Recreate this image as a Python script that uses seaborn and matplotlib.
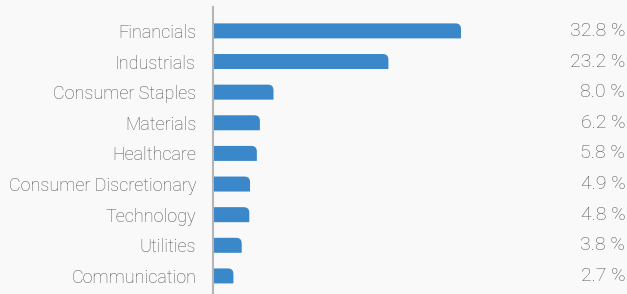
import numpy as np
import pandas as pd
import matplotlib
matplotlib.use("Agg")
import matplotlib.pyplot as plt
from matplotlib.path import Path
from matplotlib.patches import PathPatch
import seaborn as sns

sectors = ["Financials", "Industrials", "Consumer Staples", "Materials", "Healthcare",
           "Consumer Discretionary", "Technology", "Utilities", "Communication"]
weights = [32.8, 23.2, 8.0, 6.2, 5.8, 4.9, 4.8, 3.8, 2.7]

bg = "#f9f9f9"
bar_color = "#3a88c9"
text_color = "#555555"

sns.set_style("white")
plt.rcParams['font.family'] = ['Roboto', 'DejaVu Sans']

df = pd.DataFrame({"sector": sectors, "weight": weights})

fig = plt.figure(figsize=(6.27, 2.94), dpi=100, facecolor=bg)
ax = fig.add_axes([213 / 627, 0, 414 / 627, 287 / 294])
ax.set_facecolor(bg)

sns.barplot(data=df, x="weight", y="sector", color=bar_color, width=0.49,
            saturation=1, ax=ax)

ax.set_xlim(0, 414 / 7.56)
ax.set_ylim(8.59, -0.78)

# round the top-right corner of each bar
r_px = 5.5
for p in list(ax.patches):
    x0, y0 = p.get_x(), p.get_y()
    w, h = p.get_width(), p.get_height()
    rx = r_px / 7.56
    ry = r_px / 30.6
    ytop, ybot = y0, y0 + h  # y axis is inverted: y0 is visually top
    x1 = x0 + w
    verts = [(x0, ybot), (x1, ybot), (x1, ytop + ry), (x1, ytop), (x1 - rx, ytop),
             (x0, ytop), (x0, ybot)]
    codes = [Path.MOVETO, Path.LINETO, Path.LINETO, Path.CURVE3, Path.CURVE3,
             Path.LINETO, Path.CLOSEPOLY]
    ax.add_patch(PathPatch(Path(verts, codes), facecolor=bar_color, edgecolor="none"))
    p.remove()

for i, v in enumerate(weights):
    ax.text(0.996, i, f"{v:.1f} %", transform=ax.get_yaxis_transform(),
            ha="right", va="center", fontsize=14, fontweight="light", color=text_color)

ax.set_xlabel("")
ax.set_ylabel("")
ax.set_xticks([])
ax.tick_params(axis="y", length=0, pad=12, labelsize=13, labelcolor=text_color)
for lbl in ax.get_yticklabels():
    lbl.set_fontweight("light")

for s in ["top", "right", "bottom"]:
    ax.spines[s].set_visible(False)
ax.spines["left"].set_color("#b4b4b4")
ax.spines["left"].set_linewidth(1.5)

fig.savefig("out.png", dpi=100, facecolor=bg)
